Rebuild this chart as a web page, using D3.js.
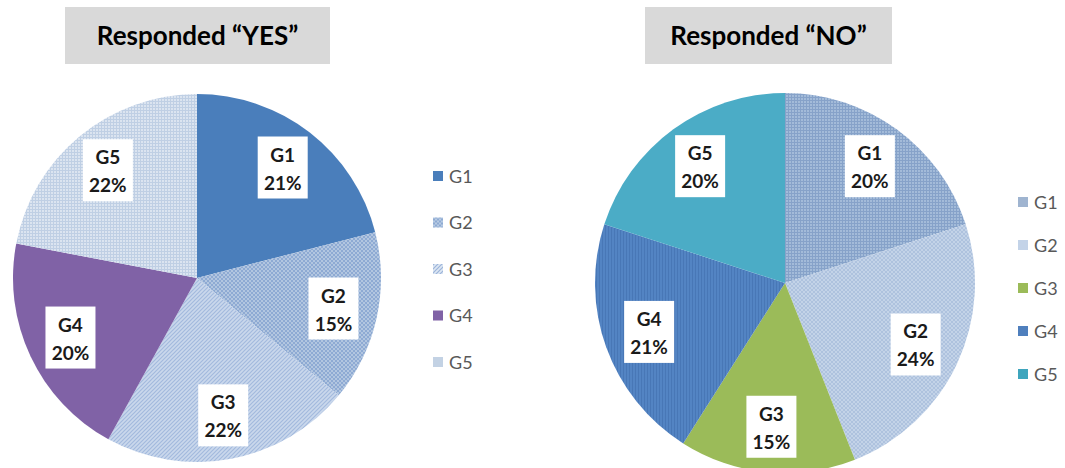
<!DOCTYPE html>
<html><head><meta charset="utf-8">
<script src="https://cdn.jsdelivr.net/npm/d3@7"></script>
<style>body{margin:0;background:#fff}svg{display:block}</style>
</head><body>
<svg id="c" width="1065" height="468"></svg>
<script>
const categories = ["G1","G2","G3","G4","G5"];
const yesValues = [21,15,22,20,22];
const noValues = [20,24,15,21,20];
const titles = ["Responded “YES”","Responded “NO”"];

const svg = d3.select("#c");
const defs = svg.append("defs");

function pat(id, bg, fg, kind){
  const p = defs.append("pattern").attr("id",id).attr("patternUnits","userSpaceOnUse");
  if(kind==="dots"){
    p.attr("width",4).attr("height",4);
    p.append("rect").attr("width",4).attr("height",4).attr("fill",bg);
    p.append("rect").attr("x",0).attr("y",0).attr("width",2).attr("height",2).attr("fill",fg);
    p.append("rect").attr("x",2).attr("y",2).attr("width",2).attr("height",2).attr("fill",fg);
  } else if(kind==="diag"){
    p.attr("width",4).attr("height",4);
    p.append("rect").attr("width",4).attr("height",4).attr("fill",bg);
    p.append("path").attr("d","M-1,1 L1,-1 M0,4 L4,0 M3,5 L5,3").attr("stroke",fg).attr("stroke-width",1.2);
  } else if(kind==="grid"){
    p.attr("width",3).attr("height",3);
    p.append("rect").attr("width",3).attr("height",3).attr("fill",bg);
    p.append("rect").attr("width",3).attr("height",1).attr("fill",fg);
    p.append("rect").attr("width",1).attr("height",3).attr("fill",fg);
  } else if(kind==="vert"){
    p.attr("width",3).attr("height",3);
    p.append("rect").attr("width",3).attr("height",3).attr("fill",bg);
    p.append("rect").attr("width",1).attr("height",3).attr("fill",fg);
  }
  return "url(#"+id+")";
}

const yesFills = [
  "#4a7ebb",
  pat("y2","#b2c6e0","#8eaad3","dots"),
  pat("y3","#cad8ec","#a3bade","diag"),
  "#8062a6",
  pat("y5","#dbe4f0","#bfcfe4","grid")
];
const yesLegend = ["#4a7ebb", pat("ly2","#b8cbe3","#8eaad3","dots"), pat("ly3","#dde7f3","#9cb4da","diag"), "#8062a6", "#c3d2e4"];
const noFills = [
  pat("n1","#a3bbd9","#86a2c9","grid"),
  pat("n2","#c3d3e8","#aec2de","dots"),
  "#9bbb59",
  pat("n4","#5384c3","#4877b6","vert"),
  "#4bacc6"
];
const noLegend = ["#9fb4d0","#c3d3e8","#9bbb59","#4f7fbd","#3ea5bd"];

function drawPie(values, fills, legFills, cx, cy, r, titleCx, boxW, title, legX, legY0, legStep){
  const g = svg.append("g");
  // title box
  g.append("rect").attr("x",titleCx-boxW/2).attr("y",7).attr("width",boxW).attr("height",57).attr("fill","#d9d9d9");
  g.append("text").attr("x",titleCx).attr("y",45).attr("text-anchor","middle")
    .attr("font-family","Lato, 'Open Sans', sans-serif").attr("font-weight","bold").attr("font-size",26)
    .attr("fill","#000").text(title);

  const data = categories.map((c,i)=>({cat:c, value:values[i], fill:fills[i]}));
  const pie = d3.pie().sort(null).value(d=>d.value);
  const arcs = pie(data);
  const arc = d3.arc().innerRadius(0).outerRadius(r);
  const labelArc = d3.arc().innerRadius(r*0.76).outerRadius(r*0.76);
  const pg = g.append("g").attr("transform",`translate(${cx},${cy})`);
  pg.selectAll("path").data(arcs).join("path").attr("d",arc).attr("fill",d=>d.data.fill);
  const lg = pg.selectAll("g.lab").data(arcs).join("g").attr("class","lab")
    .attr("transform",d=>`translate(${labelArc.centroid(d)})`);
  lg.append("rect").attr("x",-25).attr("y",-31).attr("width",50).attr("height",62).attr("fill","#fff");
  lg.append("text").attr("y",-6).attr("text-anchor","middle")
    .attr("font-family","Lato, 'Open Sans', sans-serif").attr("font-weight","bold").attr("font-size",19)
    .attr("fill","#1a1a1a").text(d=>d.data.cat);
  lg.append("text").attr("y",22).attr("text-anchor","middle")
    .attr("font-family","Lato, 'Open Sans', sans-serif").attr("font-weight","bold").attr("font-size",19)
    .attr("fill","#1a1a1a").text(d=>d.data.value+"%");

  // legend
  const y = d3.scalePoint().domain(categories).range([legY0, legY0+legStep*4]);
  const leg = g.append("g");
  const items = leg.selectAll("g").data(categories).join("g").attr("transform",c=>`translate(${legX},${y(c)})`);
  items.append("rect").attr("x",0).attr("y",-5).attr("width",10).attr("height",10).attr("fill",(c,i)=>legFills[i]);
  items.append("text").attr("x",16).attr("y",6.5).attr("font-family","Lato, 'Open Sans', sans-serif")
    .attr("font-size",18).attr("fill","#595959").text(c=>c);
}

drawPie(yesValues, yesFills, yesLegend, 197, 278, 184, 197.5, 265, titles[0], 433, 176, 46.5);
drawPie(noValues, noFills, noLegend, 785, 283, 190, 768.5, 247, titles[1], 1018, 202, 43);
</script>
</body></html>
